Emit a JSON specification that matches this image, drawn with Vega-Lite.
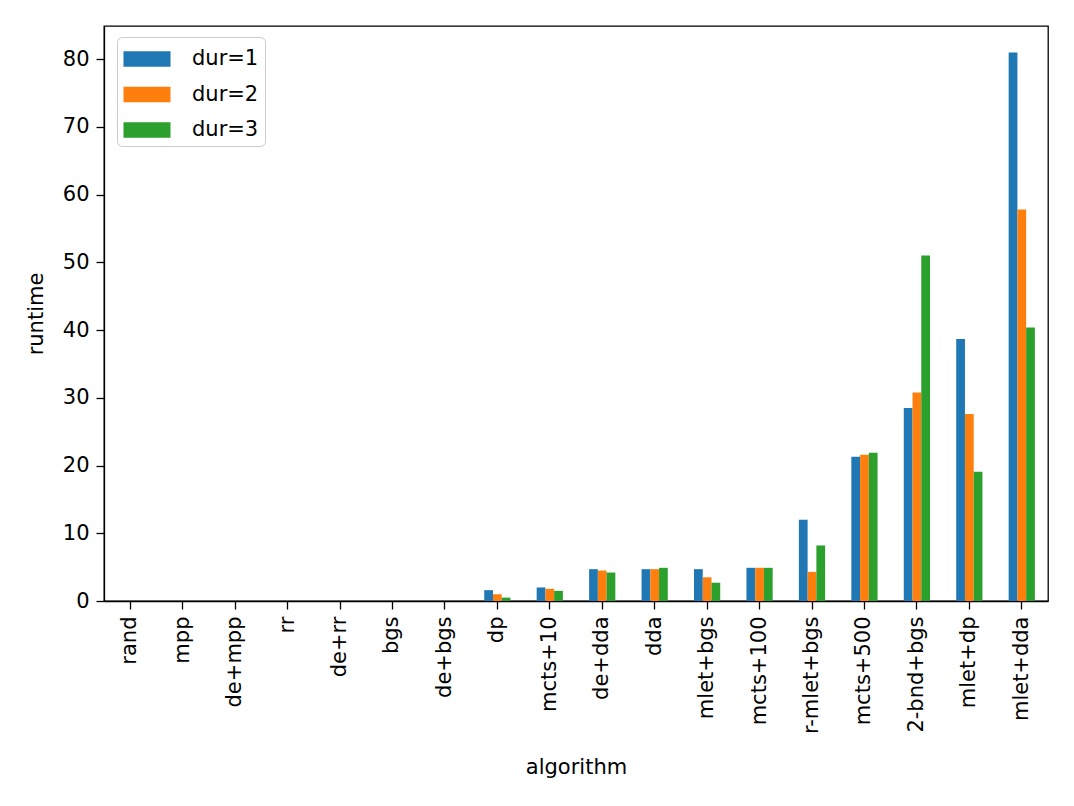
{
  "$schema": "https://vega.github.io/schema/vega-lite/v6.json",
  "width": 944,
  "height": 575,
  "autosize": {"type": "none"},
  "padding": {"left": 104, "top": 26, "right": 26, "bottom": 205},
  "background": "white",
  "config": {
    "font": "DejaVu Sans",
    "view": {"stroke": "black", "strokeWidth": 1.3},
    "axis": {
      "grid": false,
      "domainColor": "black",
      "domainWidth": 1.3,
      "tickColor": "black",
      "tickWidth": 1.3,
      "tickSize": 8,
      "labelPadding": 7,
      "labelFont": "DejaVu Sans",
      "labelFontSize": 21,
      "labelColor": "black",
      "titleFont": "DejaVu Sans",
      "titleFontSize": 21,
      "titleFontWeight": "normal",
      "titleColor": "black"
    }
  },
  "data": {
    "values": [
      {"algorithm": "rand", "dur": "dur=1", "runtime": 0},
      {"algorithm": "rand", "dur": "dur=2", "runtime": 0},
      {"algorithm": "rand", "dur": "dur=3", "runtime": 0},
      {"algorithm": "mpp", "dur": "dur=1", "runtime": 0},
      {"algorithm": "mpp", "dur": "dur=2", "runtime": 0},
      {"algorithm": "mpp", "dur": "dur=3", "runtime": 0},
      {"algorithm": "de+mpp", "dur": "dur=1", "runtime": 0},
      {"algorithm": "de+mpp", "dur": "dur=2", "runtime": 0},
      {"algorithm": "de+mpp", "dur": "dur=3", "runtime": 0},
      {"algorithm": "rr", "dur": "dur=1", "runtime": 0},
      {"algorithm": "rr", "dur": "dur=2", "runtime": 0},
      {"algorithm": "rr", "dur": "dur=3", "runtime": 0},
      {"algorithm": "de+rr", "dur": "dur=1", "runtime": 0},
      {"algorithm": "de+rr", "dur": "dur=2", "runtime": 0},
      {"algorithm": "de+rr", "dur": "dur=3", "runtime": 0},
      {"algorithm": "bgs", "dur": "dur=1", "runtime": 0},
      {"algorithm": "bgs", "dur": "dur=2", "runtime": 0},
      {"algorithm": "bgs", "dur": "dur=3", "runtime": 0},
      {"algorithm": "de+bgs", "dur": "dur=1", "runtime": 0},
      {"algorithm": "de+bgs", "dur": "dur=2", "runtime": 0},
      {"algorithm": "de+bgs", "dur": "dur=3", "runtime": 0},
      {"algorithm": "dp", "dur": "dur=1", "runtime": 1.6},
      {"algorithm": "dp", "dur": "dur=2", "runtime": 1.0},
      {"algorithm": "dp", "dur": "dur=3", "runtime": 0.5},
      {"algorithm": "mcts+10", "dur": "dur=1", "runtime": 2.0},
      {"algorithm": "mcts+10", "dur": "dur=2", "runtime": 1.8},
      {"algorithm": "mcts+10", "dur": "dur=3", "runtime": 1.5},
      {"algorithm": "de+dda", "dur": "dur=1", "runtime": 4.7},
      {"algorithm": "de+dda", "dur": "dur=2", "runtime": 4.5},
      {"algorithm": "de+dda", "dur": "dur=3", "runtime": 4.2},
      {"algorithm": "dda", "dur": "dur=1", "runtime": 4.7},
      {"algorithm": "dda", "dur": "dur=2", "runtime": 4.7},
      {"algorithm": "dda", "dur": "dur=3", "runtime": 4.9},
      {"algorithm": "mlet+bgs", "dur": "dur=1", "runtime": 4.7},
      {"algorithm": "mlet+bgs", "dur": "dur=2", "runtime": 3.5},
      {"algorithm": "mlet+bgs", "dur": "dur=3", "runtime": 2.7},
      {"algorithm": "mcts+100", "dur": "dur=1", "runtime": 4.9},
      {"algorithm": "mcts+100", "dur": "dur=2", "runtime": 4.9},
      {"algorithm": "mcts+100", "dur": "dur=3", "runtime": 4.9},
      {"algorithm": "r-mlet+bgs", "dur": "dur=1", "runtime": 12.0},
      {"algorithm": "r-mlet+bgs", "dur": "dur=2", "runtime": 4.3},
      {"algorithm": "r-mlet+bgs", "dur": "dur=3", "runtime": 8.2},
      {"algorithm": "mcts+500", "dur": "dur=1", "runtime": 21.3},
      {"algorithm": "mcts+500", "dur": "dur=2", "runtime": 21.6},
      {"algorithm": "mcts+500", "dur": "dur=3", "runtime": 21.9},
      {"algorithm": "2-bnd+bgs", "dur": "dur=1", "runtime": 28.5},
      {"algorithm": "2-bnd+bgs", "dur": "dur=2", "runtime": 30.8},
      {"algorithm": "2-bnd+bgs", "dur": "dur=3", "runtime": 51.0},
      {"algorithm": "mlet+dp", "dur": "dur=1", "runtime": 38.7},
      {"algorithm": "mlet+dp", "dur": "dur=2", "runtime": 27.6},
      {"algorithm": "mlet+dp", "dur": "dur=3", "runtime": 19.1},
      {"algorithm": "mlet+dda", "dur": "dur=1", "runtime": 81.0},
      {"algorithm": "mlet+dda", "dur": "dur=2", "runtime": 57.8},
      {"algorithm": "mlet+dda", "dur": "dur=3", "runtime": 40.4}
    ]
  },
  "mark": {"type": "bar"},
  "encoding": {
    "x": {
      "field": "algorithm",
      "type": "nominal",
      "sort": null,
      "scale": {"paddingInner": 0.5, "paddingOuter": 0.25},
      "axis": {
        "title": "algorithm",
        "labelAngle": -90,
        "labelAlign": "right",
        "labelBaseline": "middle",
        "titlePadding": 23
      }
    },
    "xOffset": {
      "field": "dur",
      "type": "nominal",
      "scale": {"paddingInner": 0, "paddingOuter": 0}
    },
    "y": {
      "field": "runtime",
      "type": "quantitative",
      "scale": {"domain": [0, 84.9], "nice": false, "zero": true},
      "axis": {
        "title": "runtime",
        "values": [0, 10, 20, 30, 40, 50, 60, 70, 80],
        "titlePadding": 16
      }
    },
    "color": {
      "field": "dur",
      "type": "nominal",
      "scale": {"range": ["#1f77b4", "#ff7f0e", "#2ca02c"]},
      "legend": {
        "title": null,
        "orient": "none",
        "legendX": 13,
        "legendY": 11,
        "symbolType": "M-1.5,-0.5L1.5,-0.5L1.5,0.5L-1.5,0.5Z",
        "symbolSize": 982,
        "symbolStrokeWidth": 0,
        "symbolOpacity": 1,
        "symbolOffset": 8,
        "labelFontSize": 21,
        "labelFont": "DejaVu Sans",
        "labelColor": "black",
        "labelOffset": 29,
        "rowPadding": 9.5,
        "padding": 6,
        "fillColor": "white",
        "strokeColor": "#cccccc",
        "cornerRadius": 5
      }
    }
  }
}
